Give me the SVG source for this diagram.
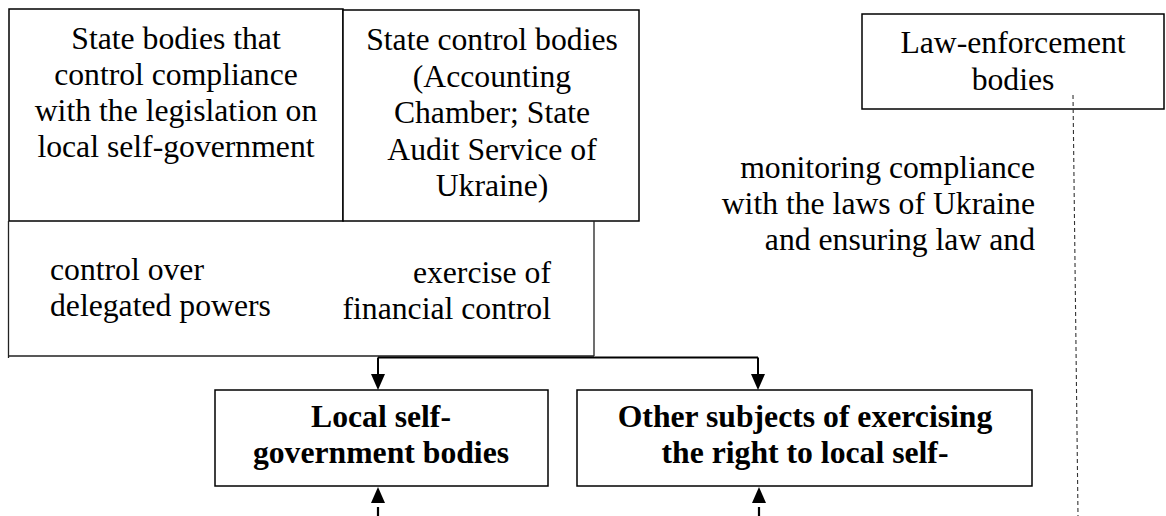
<svg xmlns="http://www.w3.org/2000/svg" width="1166" height="516" viewBox="0 0 1166 516">
<style>
.box{fill:#fff;stroke:#000;stroke-width:1.5}
.t{font-family:"Liberation Serif","Times New Roman",Tinos,serif;font-size:31.7px;fill:#000}
.c{text-anchor:middle}
.r{text-anchor:end}
.b{font-weight:bold}
.ln{fill:none;stroke:#222;stroke-width:1.3}
.ar{fill:none;stroke:#000;stroke-width:2}
.dash{fill:none;stroke:#000;stroke-width:2.2;stroke-dasharray:9 4}
.dot{fill:none;stroke:#333;stroke-width:1.1;stroke-dasharray:4 3}
.head{fill:#000}
</style>
<rect width="1166" height="516" fill="#fff"/>
<g id="node-state-bodies">
<rect class="box" x="9" y="9" width="334" height="212"/>
<text class="t c" x="176" y="49">State bodies that</text>
<text class="t c" x="176" y="85">control compliance</text>
<text class="t c" x="176" y="121">with the legislation on</text>
<text class="t c" x="176" y="157">local self-government</text>
</g>
<g id="node-state-control">
<rect class="box" x="343" y="10" width="296" height="211"/>
<text class="t c" x="492" y="50">State control bodies</text>
<text class="t c" x="492" y="86.5">(Accounting</text>
<text class="t c" x="492" y="123">Chamber; State</text>
<text class="t c" x="492" y="159.5">Audit Service of</text>
<text class="t c" x="492" y="196">Ukraine)</text>
</g>
<g id="node-law-enforcement">
<rect class="box" x="862" y="14" width="302" height="95"/>
<text class="t c" x="1013" y="53">Law-enforcement</text>
<text class="t c" x="1013" y="90">bodies</text>
</g>
<g id="node-local">
<rect class="box" x="215" y="390" width="333" height="96"/>
<text class="t c b" x="381" y="427">Local self-</text>
<text class="t c b" x="381" y="463">government bodies</text>
</g>
<g id="node-other">
<rect class="box" x="577" y="390" width="455" height="96"/>
<text class="t c b" x="805" y="427">Other subjects of exercising</text>
<text class="t c b" x="805" y="463">the right to local self-</text>
</g>
<g id="connectors">
<path class="ln" d="M8.5,221 V358 M8.5,356 H594 M594,221 V356"/>
<path class="ar" d="M378,357.5 H758 M378,357.5 V375 M758,357.5 V375"/>
<polygon class="head" points="371,374 385,374 378,390"/>
<polygon class="head" points="751,374 765,374 758,390"/>
<polygon class="head" points="371,503 385,503 378,487"/>
<polygon class="head" points="752,503 766,503 759,487"/>
<path class="dash" d="M378,507 V516 M759,507 V516"/>
<path class="dot" d="M1073,95 L1078,516"/>
<text class="t" x="50" y="280">control over</text>
<text class="t" x="50" y="316">delegated powers</text>
<text class="t r" x="551" y="283">exercise of</text>
<text class="t r" x="551" y="319">financial control</text>
<text class="t r" x="1035" y="178">monitoring compliance</text>
<text class="t r" x="1035" y="214">with the laws of Ukraine</text>
<text class="t r" x="1035" y="250">and ensuring law and</text>
</g>
</svg>
